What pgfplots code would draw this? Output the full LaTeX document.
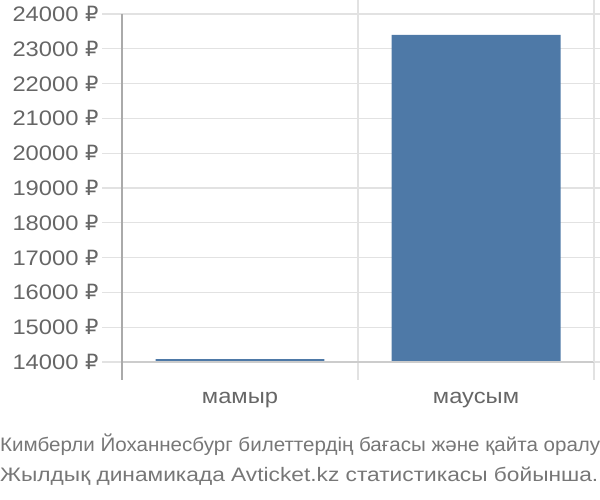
\documentclass[border=0pt]{standalone}
\usepackage{fontspec}
\setmainfont{Liberation Sans}
\newfontfamily\widefont{Liberation Sans}[FakeStretch=1.13]
\newfontfamily\rublefont{DejaVu Sans}[FakeStretch=1.0]
\usepackage{pgfplots}
\pgfplotsset{compat=1.18}

\definecolor{barblue}{HTML}{4E79A7}
\definecolor{txtgray}{HTML}{666666}
\definecolor{titlegray}{HTML}{777777}
\definecolor{gridgray}{HTML}{E2E2E2}
\definecolor{axisgray}{HTML}{AAAAAA}
\definecolor{basegray}{HTML}{CCCCCC}

\begin{document}
\begin{tikzpicture}[x=1bp,y=1bp]
\path[use as bounding box] (0,0) rectangle (600,500);
\begin{axis}[
	at={(122bp,138bp)}, anchor=south west,
	width=472bp, height=348bp, scale only axis,
	xmin=-0.5, xmax=1.5,
	ymin=14000, ymax=24000,
	ybar, bar width=0.716,
	axis line style={draw=none},
	xtick={0,1},
	xticklabels={мамыр,маусым},
	xtick style={draw=none},
	xticklabel style={font=\widefont\fontsize{21bp}{24bp}\selectfont, text=txtgray, yshift=-7bp},
	extra x ticks={0.5,1.5},
	extra x tick labels={},
	extra x tick style={grid=major, major grid style={gridgray, line width=1.2bp},
		tick align=outside, major tick length=18bp,
		xtick style={draw=gridgray, line width=1.2bp}},
	ytick distance=1000,
	scaled y ticks=false,
	ymajorgrids,
	major grid style={gridgray, line width=1.2bp},
	tick align=outside,
	major tick length=20bp,
	ytick style={draw=gridgray, line width=1.2bp},
	yticklabel style={font=\widefont\fontsize{21bp}{24bp}\selectfont, text=txtgray},
	/pgf/number format/set thousands separator={},
	/pgf/number format/assume math mode=true,
	yticklabel={\pgfmathprintnumber{\tick}~{\rublefont ₽}},
	clip=false,
]
\addplot[fill=barblue, draw=none] coordinates {(0,14080) (1,23400)};
\draw[basegray, line width=1.2bp] (rel axis cs:0,0) -- (rel axis cs:1,0);
\draw[gridgray, line width=1.2bp] (rel axis cs:1,0) -- (rel axis cs:1,1);
\draw[axisgray, line width=1.2bp] (rel axis cs:0,1) -- (rel axis cs:0,0) -- ++(0bp,-18bp);
\end{axis}
\node[anchor=base west, inner sep=0pt, text=titlegray, font=\fontsize{19.5bp}{22bp}\selectfont] at (0,48)
	{\resizebox{600bp}{\height}{Кимберли Йоханнесбург билеттердің бағасы және қайта оралу}};
\node[anchor=base west, inner sep=0pt, text=titlegray, font=\fontsize{19.5bp}{22bp}\selectfont] at (0,18)
	{\resizebox{598bp}{\height}{Жылдық динамикада Avticket.kz статистикасы бойынша.}};
\end{tikzpicture}
\end{document}
